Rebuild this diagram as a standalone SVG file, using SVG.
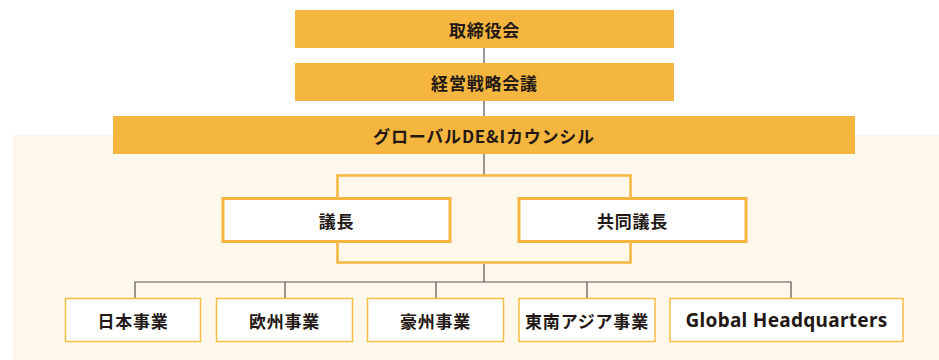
<svg xmlns="http://www.w3.org/2000/svg" width="939" height="360" viewBox="0 0 939 360">
<style>
.fill{fill:#F4B63F}
.t{font-family:"Noto Sans CJK JP","Noto Sans",sans-serif;font-size:17px;font-weight:700;fill:#231815;text-anchor:middle;dominant-baseline:central;letter-spacing:0.8px}
.box{fill:#fff;stroke:#F4B63F;stroke-width:3}
.sbox{fill:#fff;stroke:#F6BD46;stroke-width:1.5}
.ln{stroke:#5a5350;stroke-width:1.2;fill:none}
</style>
<rect x="13" y="135" width="926" height="225" fill="#FEF7EB"/>
<g id="connectors">
<line class="ln" x1="484" y1="48" x2="484" y2="63"/>
<line class="ln" x1="484" y1="101" x2="484" y2="116"/>
<line class="ln" x1="484" y1="154" x2="484" y2="176"/>
<rect x="337.5" y="175.5" width="293" height="87" fill="none" stroke="#F4B63F" stroke-width="2.5"/>
<line class="ln" x1="484" y1="264" x2="484" y2="282"/>
<polyline class="ln" points="135,298 135,282 791,282 791,298"/>
<line class="ln" x1="285" y1="282" x2="285" y2="298"/>
<line class="ln" x1="436" y1="282" x2="436" y2="298"/>
<line class="ln" x1="587" y1="282" x2="587" y2="298"/>
</g>
<g id="board"><rect class="fill" x="295" y="10" width="379" height="38"/><text class="t" x="484.5" y="29">取締役会</text></g>
<g id="strategy"><rect class="fill" x="295" y="63" width="379" height="38"/><text class="t" x="484.5" y="82">経営戦略会議</text></g>
<g id="council"><rect class="fill" x="113" y="116" width="742" height="38"/><text class="t" x="484" y="135">グローバルDE&amp;Iカウンシル</text></g>
<g id="chair"><rect class="box" x="223" y="198.5" width="227" height="43"/><text class="t" x="336.5" y="220">議長</text></g>
<g id="cochair"><rect class="box" x="519" y="198.5" width="227" height="43"/><text class="t" x="632.5" y="220">共同議長</text></g>
<g id="japan"><rect class="sbox" x="65.5" y="298.5" width="135" height="43"/><text class="t" x="133" y="320">日本事業</text></g>
<g id="europe"><rect class="sbox" x="216.5" y="298.5" width="136" height="43"/><text class="t" x="284.5" y="320">欧州事業</text></g>
<g id="australia"><rect class="sbox" x="367.5" y="298.5" width="136" height="43"/><text class="t" x="435.5" y="320">豪州事業</text></g>
<g id="sea"><rect class="sbox" x="519" y="298.5" width="136" height="43"/><text class="t" x="587" y="320">東南アジア事業</text></g>
<g id="ghq"><rect class="sbox" x="670" y="298.5" width="233" height="43"/><text class="t" x="786.5" y="320" style="font-family:'Noto Sans','Open Sans',sans-serif;font-size:19px;letter-spacing:0.3px">Global Headquarters</text></g>
</svg>
